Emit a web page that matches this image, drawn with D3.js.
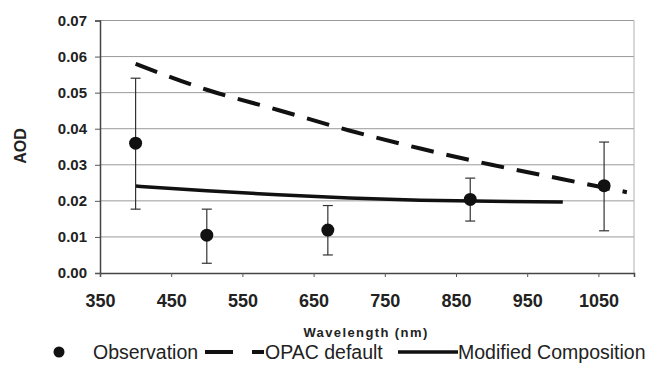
<!DOCTYPE html>
<html>
<head>
<meta charset="utf-8">
<script src="https://d3js.org/d3.v7.min.js"></script>
<style>
  body { margin: 0; background: #fff; }
  text { font-family: "Liberation Sans", Arial, sans-serif; fill: #222; }
</style>
</head>
<body>
<div id="chart"></div>
<script>
// observations with error bars
var obsWavelength = [400, 500, 670, 870, 1058];
var obsAOD = [0.036, 0.0105, 0.0119, 0.0204, 0.0242];
var obsLow = [0.0177, 0.0027, 0.005, 0.0144, 0.0117];
var obsHigh = [0.054, 0.0177, 0.0187, 0.0263, 0.0363];

// OPAC default model curve
var opacWavelength = [400, 500, 600, 700, 800, 900, 1000, 1090];
var opacAOD = [0.058, 0.0508, 0.0452, 0.0395, 0.0345, 0.0300, 0.0260, 0.0224];

// modified composition curve
var modWavelength = [400, 500, 600, 700, 800, 900, 1000];
var modAOD = [0.0241, 0.0228, 0.0217, 0.0208, 0.0202, 0.0199, 0.0197];

var xTicks = [350, 450, 550, 650, 750, 850, 950, 1050];
var yTicks = [0, 0.01, 0.02, 0.03, 0.04, 0.05, 0.06, 0.07];
var legendLabels = ["Observation", "OPAC default", "Modified Composition"];

var W = 647, H = 372;
var svg = d3.select("#chart").append("svg")
  .attr("width", W).attr("height", H);

var x = d3.scaleLinear().domain([350, 1100]).range([100, 634]);
var y = d3.scaleLinear().domain([0, 0.07]).range([273, 20.5]);

// gridlines
svg.append("g").selectAll("line")
  .data(yTicks.slice(1))
  .join("line")
  .attr("x1", x(350)).attr("x2", x(1100))
  .attr("y1", function(d) { return y(d); })
  .attr("y2", function(d) { return y(d); })
  .attr("stroke", "#9a9a9a").attr("stroke-width", 1);

// right border
svg.append("line")
  .attr("x1", x(1100)).attr("x2", x(1100))
  .attr("y1", y(0.07)).attr("y2", y(0))
  .attr("stroke", "#b0b0b0").attr("stroke-width", 1);

// axes
var yAxis = svg.append("g")
  .attr("transform", "translate(" + x(350) + ",0)")
  .call(d3.axisLeft(y).tickValues(yTicks).tickFormat(d3.format(".2f")).tickSize(5).tickPadding(8));
var xAxis = svg.append("g")
  .attr("transform", "translate(0," + y(0) + ")")
  .call(d3.axisBottom(x).tickValues(xTicks).tickFormat(d3.format("d")).tickSize(4).tickPadding(17));

[yAxis, xAxis].forEach(function(a) {
  a.select(".domain").attr("stroke", "#444").attr("stroke-width", 1.5);
  a.selectAll(".tick line").attr("stroke", "#555");
  a.selectAll("text").attr("fill", "#2a2a2a").style("font-weight", "bold");
});
yAxis.selectAll("text").style("font-size", "15px");
xAxis.selectAll("text").style("font-size", "18px");

// axis titles
svg.append("text")
  .attr("transform", "translate(26,146) rotate(-90)")
  .attr("text-anchor", "middle")
  .style("font-size", "16px").style("font-weight", "bold")
  .text("AOD");
svg.append("text")
  .attr("x", 366).attr("y", 337)
  .attr("text-anchor", "middle")
  .style("font-size", "13px").style("font-weight", "bold")
  .style("letter-spacing", "1.4px")
  .text("Wavelength (nm)");

// model lines
var line = d3.line()
  .x(function(d) { return x(d[0]); })
  .y(function(d) { return y(d[1]); })
  .curve(d3.curveMonotoneX);

svg.append("path")
  .datum(d3.zip(opacWavelength, opacAOD))
  .attr("d", line)
  .attr("fill", "none").attr("stroke", "#111")
  .attr("stroke-width", 4).attr("stroke-dasharray", "23,13");

svg.append("path")
  .datum(d3.zip(modWavelength, modAOD))
  .attr("d", line)
  .attr("fill", "none").attr("stroke", "#111")
  .attr("stroke-width", 3.5);

// error bars
var obs = d3.range(obsWavelength.length).map(function(i) {
  return { w: obsWavelength[i], v: obsAOD[i], lo: obsLow[i], hi: obsHigh[i] };
});
var eb = svg.append("g").selectAll("g").data(obs).join("g")
  .attr("stroke", "#333").attr("stroke-width", 1.2);
eb.append("line")
  .attr("x1", function(d) { return x(d.w); }).attr("x2", function(d) { return x(d.w); })
  .attr("y1", function(d) { return y(d.lo); }).attr("y2", function(d) { return y(d.hi); });
eb.append("line")
  .attr("x1", function(d) { return x(d.w) - 5; }).attr("x2", function(d) { return x(d.w) + 5; })
  .attr("y1", function(d) { return y(d.hi); }).attr("y2", function(d) { return y(d.hi); });
eb.append("line")
  .attr("x1", function(d) { return x(d.w) - 5; }).attr("x2", function(d) { return x(d.w) + 5; })
  .attr("y1", function(d) { return y(d.lo); }).attr("y2", function(d) { return y(d.lo); });

svg.append("g").selectAll("circle").data(obs).join("circle")
  .attr("cx", function(d) { return x(d.w); })
  .attr("cy", function(d) { return y(d.v); })
  .attr("r", 6.5).attr("fill", "#111");

// legend
var ly = 352;
var leg = svg.append("g");
leg.append("circle").attr("cx", 59).attr("cy", ly).attr("r", 5.5).attr("fill", "#111");
leg.append("text").attr("x", 93).attr("y", ly + 7).style("font-size", "19.5px").text(legendLabels[0]);
leg.append("line").attr("x1", 205).attr("x2", 264).attr("y1", ly).attr("y2", ly)
  .attr("stroke", "#111").attr("stroke-width", 4).attr("stroke-dasharray", "28,19");
leg.append("text").attr("x", 265).attr("y", ly + 7).style("font-size", "19.5px").text(legendLabels[1]);
leg.append("line").attr("x1", 398).attr("x2", 458).attr("y1", ly).attr("y2", ly)
  .attr("stroke", "#111").attr("stroke-width", 3.5);
leg.append("text").attr("x", 458).attr("y", ly + 7).style("font-size", "19.5px").text(legendLabels[2]);
</script>
</body>
</html>
